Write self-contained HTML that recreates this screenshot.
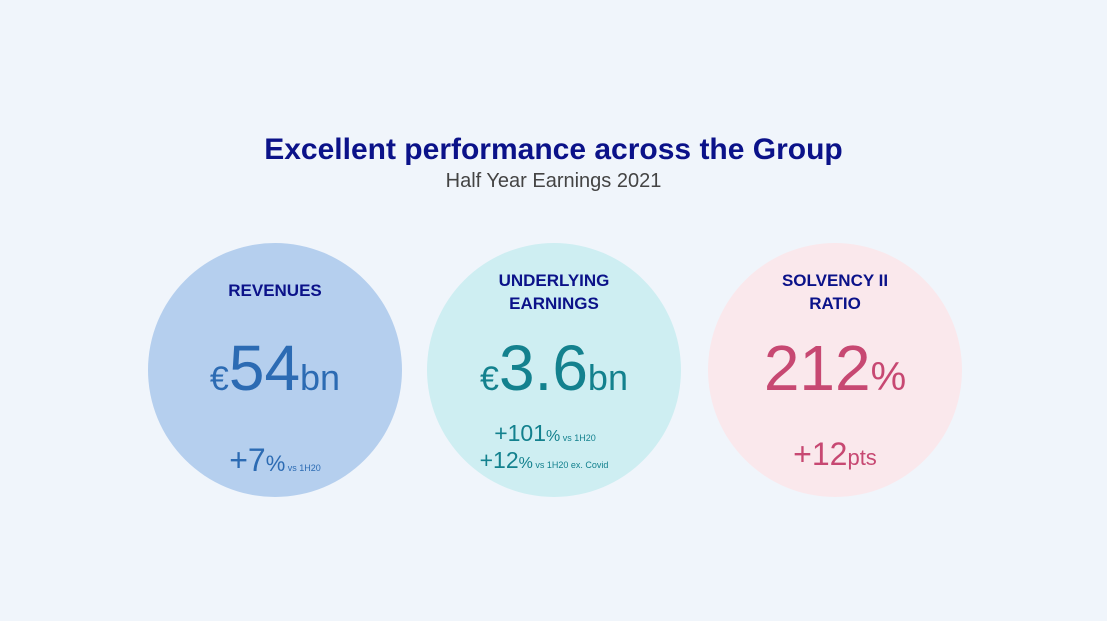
<!DOCTYPE html>
<html><head><meta charset="utf-8"><style>
html,body{margin:0;padding:0}
body{width:1107px;height:621px;background:#f0f5fb;position:relative;overflow:hidden;font-family:"Liberation Sans","DejaVu Sans",sans-serif}
.t{position:absolute;left:0;width:1107px;text-align:center}
.c{position:absolute;width:254px;height:254px;border-radius:50%;top:243px}
.a{position:absolute;left:0;width:254px;text-align:center;white-space:nowrap}
.lab{font-weight:bold;font-size:17px;color:#0b1289;line-height:23px}
</style></head><body>
<div class="t" style="top:133px;font-size:30px;font-weight:bold;color:#0b1289">Excellent performance across the Group</div>
<div class="t" style="top:170px;font-size:20px;color:#444">Half Year Earnings 2021</div>

<div class="c" style="left:148px;background:#b5cfee">
  <div class="a lab" style="top:36px">REVENUES</div>
  <div class="a" style="top:88px;color:#2c6bb3"><span style="font-size:34px">€</span><span style="font-size:64px">54</span><span style="font-size:36px">bn</span></div>
  <div class="a" style="top:199px;color:#2c6bb3"><span style="font-size:32px">+7</span><span style="font-size:22px">%</span><span style="font-size:9px"> vs 1H20</span></div>
</div>

<div class="c" style="left:427px;background:#ceeef2">
  <div class="a lab" style="top:26px">UNDERLYING<br>EARNINGS</div>
  <div class="a" style="top:88px;color:#13818e"><span style="font-size:34px">€</span><span style="font-size:64px">3.6</span><span style="font-size:36px">bn</span></div>
  <div class="a" style="top:177px;color:#13818e;left:-9px"><span style="font-size:23px">+101</span><span style="font-size:16px">%</span><span style="font-size:9px"> vs 1H20</span></div>
  <div class="a" style="top:204px;color:#13818e;left:-10px"><span style="font-size:23px">+12</span><span style="font-size:16px">%</span><span style="font-size:9px"> vs 1H20 ex. Covid</span></div>
</div>

<div class="c" style="left:708px;background:#fae8ec">
  <div class="a lab" style="top:26px">SOLVENCY II<br>RATIO</div>
  <div class="a" style="top:88px;color:#c74872"><span style="font-size:64px">212</span><span style="font-size:40px">%</span></div>
  <div class="a" style="top:193px;color:#c74872"><span style="font-size:32px">+12</span><span style="font-size:22px">pts</span></div>
</div>
</body></html>
